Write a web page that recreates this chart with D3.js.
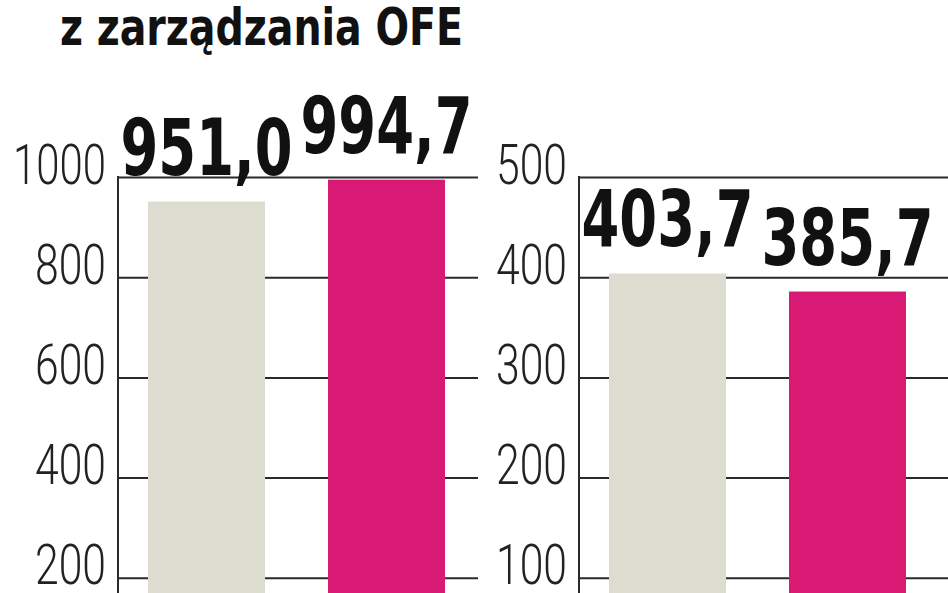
<!DOCTYPE html>
<html>
<head>
<meta charset="utf-8">
<script src="https://cdn.jsdelivr.net/npm/d3@7"></script>
<style>
  html, body { margin: 0; padding: 0; background: #fff; }
  svg { display: block; }
</style>
</head>
<body>
<svg id="chart" width="948" height="593"></svg>
<script>
// ---- data ----
const titleText = "z zarządzania OFE";
const categories = ["poprzednio", "obecnie"];
const leftValues = [951.0, 994.7];
const rightValues = [403.7, 385.7];
const leftTicks = [200, 400, 600, 800, 1000];
const rightTicks = [100, 200, 300, 400, 500];
const barColors = ["#dcdcd0", "#d91a74"];

// ---- drawing ----
const svg = d3.select("#chart");
const fmt = v => d3.format(".1f")(v).replace(".", ",");

svg.append("text")
  .attr("x", 60).attr("y", 45)
  .attr("textLength", 403).attr("lengthAdjust", "spacingAndGlyphs")
  .style("font-family", "'DejaVu Sans Condensed', 'DejaVu Sans', sans-serif")
  .style("font-weight", "bold").style("font-size", "51px")
  .attr("fill", "#111")
  .text(titleText);

function panel(x0, gridEnd, domainMax, values, ticks) {
  const g = svg.append("g");
  const y = d3.scaleLinear().domain([0, domainMax]).range([678, 177]);
  const x = d3.scaleBand().domain(categories).range([x0, x0 + 357])
    .paddingInner(0.35).paddingOuter(0.1667);

  // gridlines + tick labels via axis
  const axis = d3.axisLeft(y).tickValues(ticks)
    .tickSize(-(gridEnd - x0)).tickPadding(12).tickFormat(d3.format("d"));
  const ag = g.append("g").attr("transform", `translate(${x0},0)`).call(axis);
  ag.select(".domain").remove();
  ag.selectAll(".tick line").attr("stroke", "#2a2a2a").attr("stroke-width", 2);
  ag.selectAll(".tick text")
    .attr("dy", null).attr("y", 6)
    .attr("fill", "#222")
    .attr("textLength", d => String(d).length === 4 ? 93 : 71)
    .attr("lengthAdjust", "spacingAndGlyphs")
    .style("font-family", "Roboto, 'DejaVu Sans', sans-serif")
    .style("font-weight", 300).style("font-size", "56px");

  // bars (drawn over gridlines)
  g.selectAll("rect.bar").data(values).enter().append("rect")
    .attr("class", "bar")
    .attr("x", (d, i) => x(categories[i]))
    .attr("width", x.bandwidth())
    .attr("y", d => y(d))
    .attr("height", d => 700 - y(d))
    .attr("fill", (d, i) => barColors[i]);

  // vertical axis line
  g.append("line")
    .attr("x1", x0).attr("x2", x0)
    .attr("y1", y(domainMax) - 1).attr("y2", 600)
    .attr("stroke", "#2a2a2a").attr("stroke-width", 2);

  // value labels
  g.selectAll("text.val").data(values).enter().append("text")
    .attr("class", "val")
    .attr("x", (d, i) => x(categories[i]) + x.bandwidth() / 2)
    .attr("y", d => y(d) - 27)
    .attr("text-anchor", "middle")
    .attr("textLength", 172).attr("lengthAdjust", "spacingAndGlyphs")
    .style("font-family", "'DejaVu Sans Condensed', 'DejaVu Sans', sans-serif")
    .style("font-weight", "bold").style("font-size", "79px")
    .attr("fill", "#111")
    .text(d => fmt(d));
}

panel(118, 478, 1000, leftValues, leftTicks);
panel(579, 948, 500, rightValues, rightTicks);
</script>
</body>
</html>
